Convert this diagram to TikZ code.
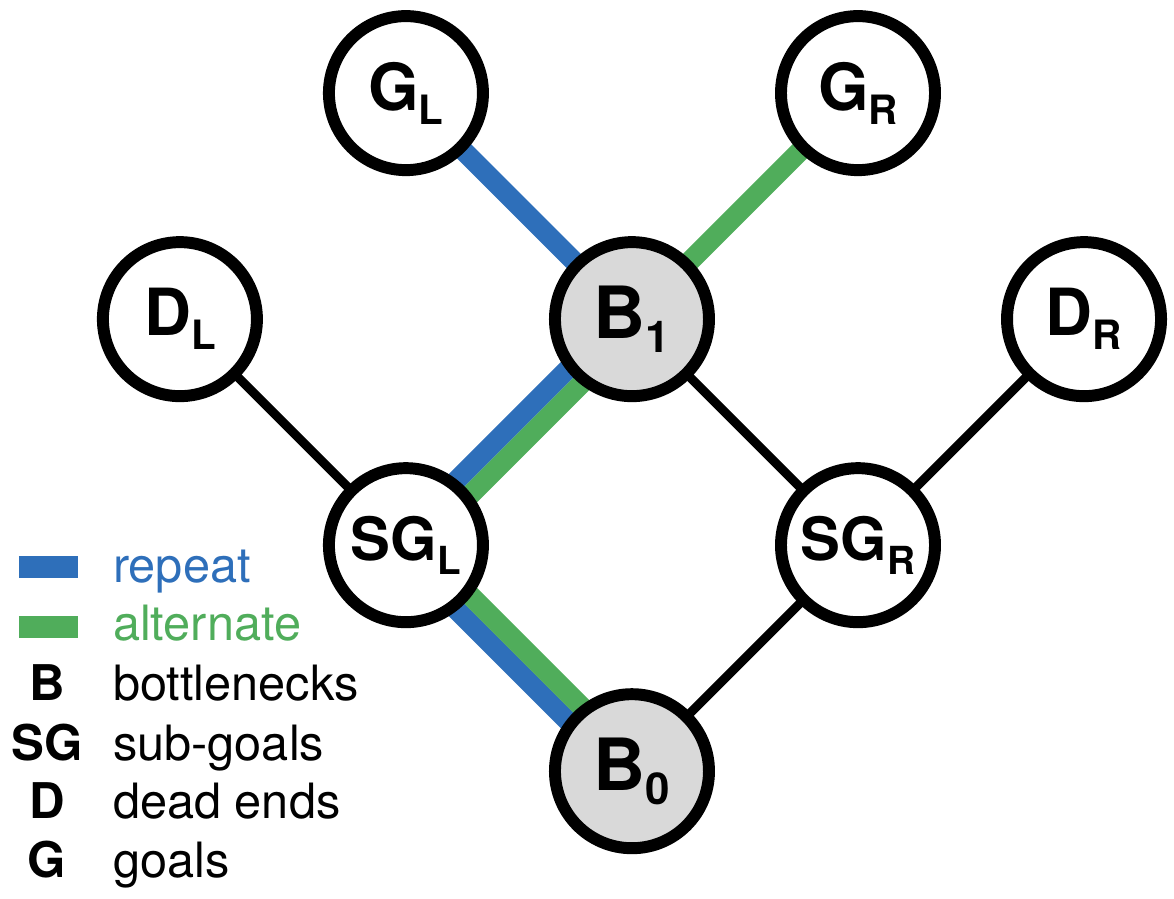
\documentclass[tikz,border=0pt]{standalone}
\usepackage{fontspec}
\setmainfont{TeX Gyre Heros}
\usetikzlibrary{backgrounds}

\definecolor{repeatblue}{RGB}{46,111,186}
\definecolor{altgreen}{RGB}{80,173,91}
\definecolor{bottlegray}{RGB}{217,217,217}

% main letter, then lowered subscript
\newcommand{\statelab}[4]{{\fontsize{#1pt}{#1pt}\selectfont\bfseries #3}%
  \raisebox{-8pt}{\fontsize{#2pt}{#2pt}\selectfont\bfseries #4}}

\begin{document}
\begin{tikzpicture}[x=4.52cm,y=4.52cm,
    state/.style={circle,draw,line width=6.8pt,minimum size=3.08cm,inner sep=0pt,fill=white},
    bottle/.style={state,fill=bottlegray},
    plain/.style={line width=5.1pt},
    rep/.style={repeatblue,line width=0.4cm},
    alt/.style={altgreen,line width=0.4cm},
    legtext/.style={anchor=base west,font=\fontsize{27.7pt}{28pt}\selectfont},
    legsym/.style={anchor=base,font=\fontsize{28pt}{28pt}\selectfont\bfseries}]
          \useasboundingbox (-2.796,-0.562) rectangle (2.398,3.412);

          \node[bottle] (B0) at (0,0) {\statelab{41}{25}{B}{0}};
          \node[state] (SGL) at (-1,1) {\statelab{34}{22}{SG}{L}};
          \node[state] (SGR) at (1,1) {\statelab{34}{22}{SG}{R}};
          \node[state] (DL) at (-2,2) {\statelab{37}{23}{D}{L}};
          \node[bottle] (B1) at (0,2) {\statelab{41}{25}{B}{1}};
          \node[state] (DR) at (2,2) {\statelab{37}{23}{D}{R}};
          \node[state] (GL) at (-1,3) {\statelab{37}{23}{G}{L}};
          \node[state] (GR) at (1,3) {\statelab{37}{23}{G}{R}};

          \begin{pgfonlayer}{background}
          \draw[plain] (DL.center) -- (SGL.center);
          \draw[plain] (B1.center) -- (SGR.center);
          \draw[plain] (DR.center) -- (SGR.center);
          \draw[plain] (SGR.center) -- (B0.center);

          \draw[rep] (GL.center) -- (B1.center);
          \draw[alt] (GR.center) -- (B1.center);

          % repeat and alternate side by side
          \draw[rep] ([shift={(-0.141cm,0.141cm)}]SGL.center) --
                     ([shift={(-0.141cm,0.141cm)}]B1.center);
          \draw[alt] ([shift={(0.141cm,-0.141cm)}]SGL.center) --
                     ([shift={(0.141cm,-0.141cm)}]B1.center);
          \draw[rep] ([shift={(-0.141cm,-0.141cm)}]SGL.center) --
                     ([shift={(-0.141cm,-0.141cm)}]B0.center);
          \draw[alt] ([shift={(0.141cm,0.141cm)}]SGL.center) --
                     ([shift={(0.141cm,0.141cm)}]B0.center);
          \end{pgfonlayer}

          % legend
          \draw[repeatblue,line width=0.44cm] (-2.712,0.903) -- (-2.451,0.903);
          \draw[altgreen,line width=0.44cm] (-2.712,0.637) -- (-2.451,0.637);
          \node[legtext,text=repeatblue] (lrep) at (-2.323,0.836) {repeat};
          \node[legtext,text=altgreen] (lalt) at (-2.323,0.580) {alternate};
          \node[legsym] (sB) at (-2.588,0.314) {B};
          \node[legtext] (lB) at (-2.323,0.314) {bottlenecks};
          \node[legsym] (sSG) at (-2.588,0.049) {SG};
          \node[legtext] (lSG) at (-2.323,0.049) {sub-goals};
          \node[legsym] (sD) at (-2.588,-0.208) {D};
          \node[legtext] (lD) at (-2.323,-0.208) {dead ends};
          \node[legsym] (sG) at (-2.588,-0.469) {G};
          \node[legtext] (lG) at (-2.323,-0.469) {goals};

        \end{tikzpicture}
\end{document}
